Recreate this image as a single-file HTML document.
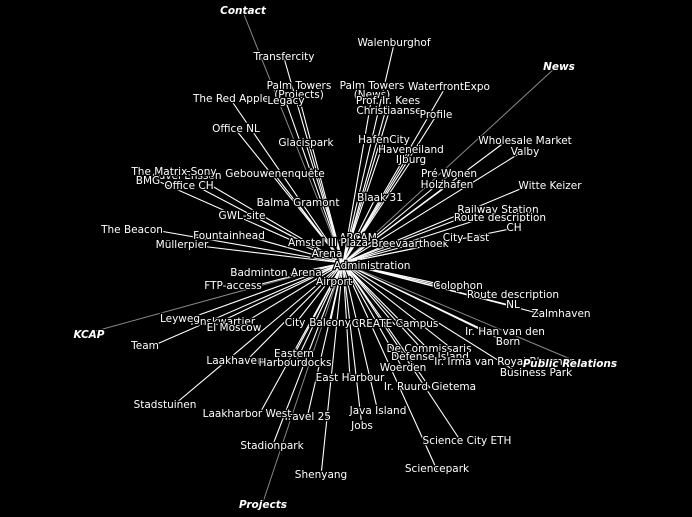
<!DOCTYPE html>
<html><head><meta charset="utf-8"><style>
html,body{margin:0;padding:0;background:#000;}
svg{display:block}
text{font-family:"DejaVu Sans","Liberation Sans",sans-serif;font-size:10.5px;fill:#fff;text-anchor:middle;stroke:#000;stroke-width:2.5px;paint-order:stroke;}
text.b{font-weight:bold;font-style:italic;}
line{stroke:#fff;stroke-width:1.1}
line.g{stroke:#888;stroke-width:1}
</style></head><body>
<svg width="692" height="517" viewBox="0 0 692 517">
<g>
<line class="g" x1="343" y1="263" x2="243" y2="12"/>
<line class="g" x1="343" y1="263" x2="555" y2="68"/>
<line class="g" x1="343" y1="263" x2="92" y2="332"/>
<line class="g" x1="343" y1="263" x2="575" y2="361"/>
<line class="g" x1="343" y1="263" x2="263" y2="502"/>
<line x1="343" y1="263" x2="284" y2="58"/>
<line x1="343" y1="263" x2="394" y2="44"/>
<line x1="343" y1="263" x2="299" y2="97"/>
<line x1="343" y1="263" x2="372" y2="96"/>
<line x1="343" y1="263" x2="445" y2="88"/>
<line x1="343" y1="263" x2="231" y2="100"/>
<line x1="343" y1="263" x2="286" y2="102"/>
<line x1="343" y1="263" x2="388" y2="102"/>
<line x1="343" y1="263" x2="389" y2="112"/>
<line x1="343" y1="263" x2="436" y2="116"/>
<line x1="343" y1="263" x2="236" y2="130"/>
<line x1="343" y1="263" x2="505" y2="142"/>
<line x1="343" y1="263" x2="306" y2="144"/>
<line x1="343" y1="263" x2="384" y2="141"/>
<line x1="343" y1="263" x2="411" y2="151"/>
<line x1="343" y1="263" x2="520" y2="153"/>
<line x1="343" y1="263" x2="411" y2="161"/>
<line x1="343" y1="263" x2="190" y2="173"/>
<line x1="343" y1="263" x2="160" y2="182"/>
<line x1="343" y1="263" x2="200" y2="188"/>
<line x1="343" y1="263" x2="275" y2="175"/>
<line x1="343" y1="263" x2="449" y2="175"/>
<line x1="343" y1="263" x2="447" y2="186"/>
<line x1="343" y1="263" x2="525" y2="187"/>
<line x1="343" y1="263" x2="298" y2="204"/>
<line x1="343" y1="263" x2="375" y2="199"/>
<line x1="343" y1="263" x2="255" y2="217"/>
<line x1="343" y1="263" x2="480" y2="211"/>
<line x1="343" y1="263" x2="480" y2="219"/>
<line x1="343" y1="263" x2="510" y2="229"/>
<line x1="343" y1="263" x2="160" y2="231"/>
<line x1="343" y1="263" x2="250" y2="237"/>
<line x1="343" y1="263" x2="358" y2="239"/>
<line x1="343" y1="263" x2="328" y2="244"/>
<line x1="343" y1="263" x2="410" y2="245"/>
<line x1="343" y1="263" x2="460" y2="239"/>
<line x1="343" y1="263" x2="200" y2="246"/>
<line x1="343" y1="263" x2="327" y2="255"/>
<line x1="343" y1="263" x2="372" y2="267"/>
<line x1="343" y1="263" x2="290" y2="274"/>
<line x1="343" y1="263" x2="334" y2="283"/>
<line x1="343" y1="263" x2="250" y2="287"/>
<line x1="343" y1="263" x2="445" y2="287"/>
<line x1="343" y1="263" x2="495" y2="296"/>
<line x1="343" y1="263" x2="513" y2="306"/>
<line x1="343" y1="263" x2="545" y2="315"/>
<line x1="343" y1="263" x2="185" y2="320"/>
<line x1="343" y1="263" x2="218" y2="323"/>
<line x1="343" y1="263" x2="234" y2="329"/>
<line x1="343" y1="263" x2="295" y2="324"/>
<line x1="343" y1="263" x2="330" y2="324"/>
<line x1="343" y1="263" x2="395" y2="325"/>
<line x1="343" y1="263" x2="150" y2="347"/>
<line x1="343" y1="263" x2="490" y2="333"/>
<line x1="343" y1="263" x2="508" y2="343"/>
<line x1="343" y1="263" x2="429" y2="350"/>
<line x1="343" y1="263" x2="294" y2="355"/>
<line x1="343" y1="263" x2="245" y2="362"/>
<line x1="343" y1="263" x2="295" y2="364"/>
<line x1="343" y1="263" x2="430" y2="358"/>
<line x1="343" y1="263" x2="470" y2="363"/>
<line x1="343" y1="263" x2="403" y2="369"/>
<line x1="343" y1="263" x2="520" y2="374"/>
<line x1="343" y1="263" x2="350" y2="379"/>
<line x1="343" y1="263" x2="430" y2="388"/>
<line x1="343" y1="263" x2="175" y2="404"/>
<line x1="343" y1="263" x2="260" y2="413"/>
<line x1="343" y1="263" x2="307" y2="418"/>
<line x1="343" y1="263" x2="378" y2="412"/>
<line x1="343" y1="263" x2="362" y2="427"/>
<line x1="343" y1="263" x2="460" y2="440"/>
<line x1="343" y1="263" x2="272" y2="447"/>
<line x1="343" y1="263" x2="437" y2="470"/>
<line x1="343" y1="263" x2="321" y2="476"/>
</g>
<g>
<text class="b" x="243" y="14">Contact</text>
<text x="284" y="60">Transfercity</text>
<text x="394" y="46">Walenburghof</text>
<text class="b" x="559" y="70">News</text>
<text x="299" y="89">Palm Towers</text>
<text x="299" y="98">(Projects)</text>
<text x="372" y="89">Palm Towers</text>
<text x="372" y="98">(News)</text>
<text x="449" y="90">WaterfrontExpo</text>
<text x="231" y="102">The Red Apple</text>
<text x="286" y="104">Legacy</text>
<text x="388" y="104">Prof. Ir. Kees</text>
<text x="389" y="114">Christiaanse</text>
<text x="436" y="118">Profile</text>
<text x="236" y="132">Office NL</text>
<text x="525" y="144">Wholesale Market</text>
<text x="306" y="146">Glacispark</text>
<text x="384" y="143">HafenCity</text>
<text x="411" y="153">Haveneiland</text>
<text x="525" y="155">Valby</text>
<text x="411" y="163">IJburg</text>
<text x="183" y="179">Nouvel Ensson</text>
<text x="189" y="189">Office CH</text>
<text x="174" y="175">The Matrix Sony</text>
<text x="148" y="184">BMG</text>
<text x="275" y="177">Gebouwenenquête</text>
<text x="449" y="177">Pré Wonen</text>
<text x="447" y="188">Holzhafen</text>
<text x="550" y="189">Witte Keizer</text>
<text x="298" y="206">Balma Gramont</text>
<text x="380" y="201">Blaak 31</text>
<text x="242" y="219">GWL-site</text>
<text x="498" y="213">Railway Station</text>
<text x="500" y="221">Route description</text>
<text x="514" y="231">CH</text>
<text x="132" y="233">The Beacon</text>
<text x="229" y="239">Fountainhead</text>
<text x="358" y="241">ARCAM</text>
<text x="328" y="246">Amstel III Plaza</text>
<text x="410" y="247">Breevaarthoek</text>
<text x="466" y="241">City East</text>
<text x="182" y="248">Müllerpier</text>
<text x="327" y="257">Arena</text>
<text x="372" y="269">Administration</text>
<text x="276" y="276">Badminton Arena</text>
<text x="334" y="285">Airport</text>
<text x="233" y="289">FTP-access</text>
<text x="458" y="289">Colophon</text>
<text x="513" y="298">Route description</text>
<text x="513" y="308">NL</text>
<text x="561" y="317">Zalmhaven</text>
<text class="b" x="89" y="338">KCAP</text>
<text x="222" y="325">Tonskwartier</text>
<text x="180" y="322">Leyweg</text>
<text x="234" y="331">El Moscow</text>
<text x="295" y="326">City</text>
<text x="330" y="326">Balcony</text>
<text x="395" y="327">CREATE Campus</text>
<text x="145" y="349">Team</text>
<text x="505" y="335">Ir. Han van den</text>
<text x="508" y="345">Born</text>
<text x="429" y="352">De Commissaris</text>
<text x="294" y="357">Eastern</text>
<text x="235" y="364">Laakhaven</text>
<text x="295" y="366">Harbourdocks</text>
<text x="430" y="360">Defense Island</text>
<text x="505" y="365">Ir. Irma van Royal Bloemen</text>
<text x="403" y="371">Woerden</text>
<text x="536" y="376">Business Park</text>
<text class="b" x="570" y="367">Public Relations</text>
<text x="350" y="381">East Harbour</text>
<text x="430" y="390">Ir. Ruurd Gietema</text>
<text x="165" y="408">Stadstuinen</text>
<text x="307" y="420">Travel 25</text>
<text x="247" y="417">Laakharbor West</text>
<text x="378" y="414">Java Island</text>
<text x="362" y="429">Jobs</text>
<text x="467" y="444">Science City ETH</text>
<text x="272" y="449">Stadionpark</text>
<text x="437" y="472">Sciencepark</text>
<text x="321" y="478">Shenyang</text>
<text class="b" x="263" y="508">Projects</text>
</g>
</svg>
</body></html>
